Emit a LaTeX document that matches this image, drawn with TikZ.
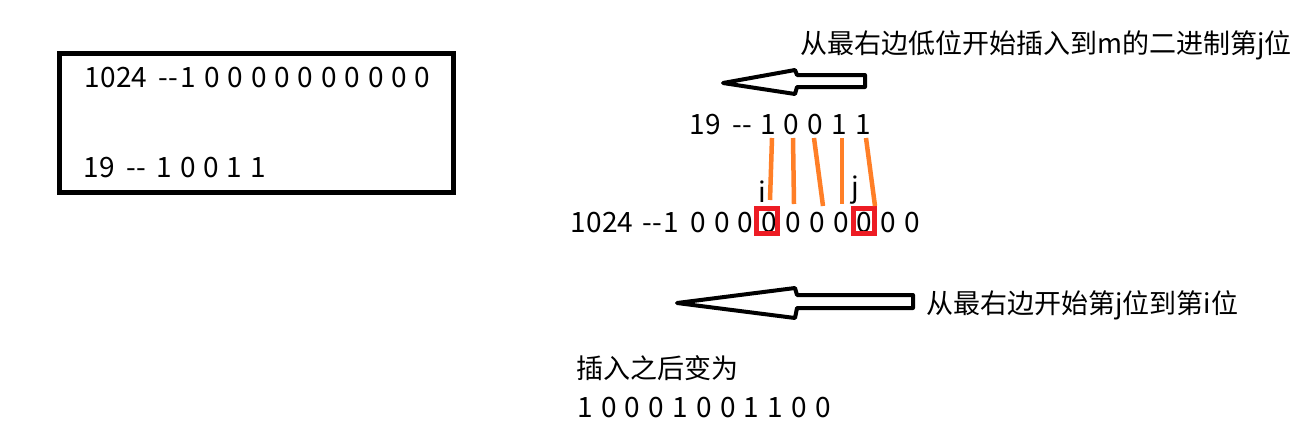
\documentclass[tikz,border=0pt]{standalone}
\usepackage{fontspec}
\setmainfont{Noto Sans CJK SC}
\definecolor{paintorange}{RGB}{255,127,39}
\definecolor{paintred}{RGB}{237,28,36}
\begin{document}
\begin{tikzpicture}[x=1pt,y=-1pt,
  cjk/.style={inner sep=0pt,font=\fontsize{27}{32}\selectfont},
  dig/.style={inner sep=0pt,font=\fontsize{28}{32}\selectfont},
  frame/.style={draw=black,line width=5pt,inner sep=0pt},
  bigarrow/.style={draw=black,line width=4pt,line join=round,fill=white},
  link/.style={draw=paintorange,line width=4.5pt},
  redbox/.style={draw=paintred,line width=5pt,inner sep=0pt,minimum width=21pt,minimum height=25pt}]
\fill[white] (0,0) rectangle (1301,440);
\useasboundingbox (0,0) rectangle (1301,440);

% left framed box
\node[frame,anchor=north west,minimum width=394pt,minimum height=139pt] (box) at (56.5,50.5) {};
\node[dig] (a1) at (116,78) {1024};
\node[dig] (a2) at (168,78) {\vphantom{0}-{}-};
\node[dig] (a3) at (188,78) {1};
\foreach \k in {0,...,9} \node[dig] (az\k) at ({212+23.4*\k},78) {0};
\node[dig] (c1) at (99,168) {19};
\node[dig] (c2) at (136.5,168) {\vphantom{0}-{}-};
\foreach \d [count=\k from 0] in {1,0,0,1,1} \node[dig] (cz\k) at ({164.5+23.4*\k},168) {\d};

% top instruction and arrow
\node[cjk,anchor=west] (t1) at (800,45) {从最右边低位开始插入到m的二进制第j位};
\draw[bigarrow] (723,83) -- (795,70) -- (797,75) -- (865,75) -- (865,87) -- (797,87) -- (795,94) -- cycle;

% middle top row
\node[dig] (m1) at (705,125) {19};
\node[dig] (m2) at (742.5,125) {\vphantom{0}-{}-};
\foreach \d [count=\k from 0] in {1,0,0,1,1} \node[dig] (mz\k) at ({768+23.75*\k},125) {\d};

% middle bottom row
\node[dig] (n1) at (602,223) {1024};
\node[dig] (n2) at (652,223) {\vphantom{0}-{}-};
\node[dig] (n3) at (671,223) {1};
\foreach \k in {0,...,9} \node[dig] (nz\k) at ({698+23.8*\k},223) {0};
\node[redbox] (bi) at (767.2,221) {};
\node[redbox] (bj) at (864.2,221) {};
\node[dig] (li) at (762,192) {i};
\node[dig] (lj) at (855,190) {j};

% orange links
\coordinate (o1a) at (772,138); \coordinate (o1b) at (770,200);
\coordinate (o2a) at (793,138); \coordinate (o2b) at (794,204);
\coordinate (o3a) at (814,138); \coordinate (o3b) at (823,206);
\coordinate (o4a) at (842,138); \coordinate (o4b) at (842,204);
\coordinate (o5a) at (866,138); \coordinate (o5b) at (875,206);
\draw[link] (o1a) -- (o1b);
\draw[link] (o2a) -- (o2b);
\draw[link] (o3a) -- (o3b);
\draw[link] (o4a) -- (o4b);
\draw[link] (o5a) -- (o5b);

% lower arrow and instruction
\draw[bigarrow] (677,303) -- (795,288) -- (797,295) -- (913,295) -- (913,308) -- (797,308) -- (795,318) -- cycle;
\node[cjk,anchor=west] (t2) at (926,305) {从最右边开始第j位到第i位};

% result
\node[cjk,anchor=west] (t3) at (576,368) {插入之后变为};
\foreach \d [count=\k from 0] in {1,0,0,0,1,0,0,1,1,0,0} \node[dig] (rz\k) at ({585+23.8*\k},408) {\d};
\end{tikzpicture}
\end{document}
